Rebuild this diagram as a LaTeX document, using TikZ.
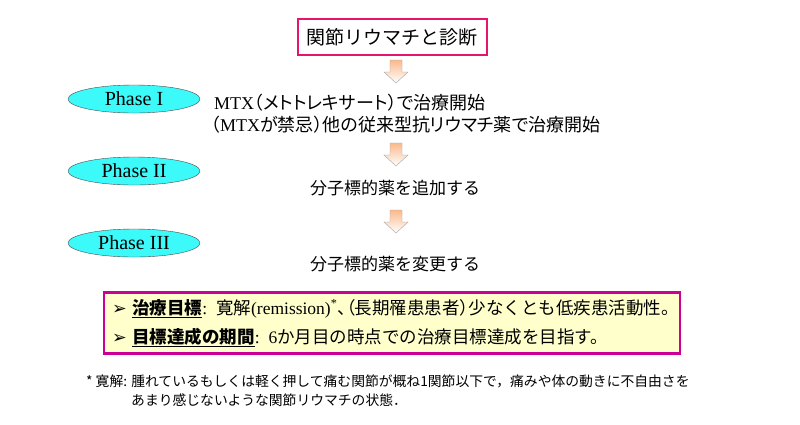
\documentclass[tikz,border=0pt]{standalone}
\usepackage{fontspec}
\setmainfont{Liberation Serif}
\newfontfamily\jp{Noto Sans CJK JP}
\newfontfamily\jpp{Noto Sans CJK JP}[RawFeature=+palt]
\newfontfamily\sym{DejaVu Sans}
\usetikzlibrary{shapes.geometric}
\definecolor{titlered}{RGB}{230,20,110}
\definecolor{goalpink}{RGB}{204,0,153}
\definecolor{goalfill}{RGB}{255,255,204}
\definecolor{phasecyan}{RGB}{60,250,250}
\definecolor{arrowtop}{RGB}{250,185,140}

\begin{document}
\begin{tikzpicture}[x=1pt,y=-1pt,
    titlebox/.style={draw=titlered,line width=2pt,fill=white,minimum height=36pt,
        inner xsep=9pt,font=\jp\fontsize{19}{22}\selectfont},
    phase/.style={ellipse,draw=gray!60!black,fill=phasecyan,minimum width=132pt,
        minimum height=28pt,inner sep=0pt,font=\fontsize{20}{24}\selectfont},
    flowtext/.style={inner sep=0pt,font=\fontsize{17}{22}\selectfont},
    goalbox/.style={draw=goalpink,line width=2.2pt,fill=goalfill,minimum width=576pt,
        minimum height=61pt,inner xsep=8pt,text width=560pt,align=left,
        font=\fontsize{17.5}{29}\selectfont},
    foot/.style={inner sep=0pt,anchor=west,font=\jp\fontsize{13.8}{16}\selectfont}]
    \useasboundingbox[fill=white] (0,0) rectangle (800,424);

    \node[titlebox] (title) at (392,37) {関節リウマチと診断};

    % block arrows
    \foreach \y in {60,143,210}
        \shade[draw=gray!70,top color=arrowtop,bottom color=white]
            (390,\y) -- (402,\y) -- (402,\y+12) -- (408,\y+12) -- (396,\y+23)
            -- (384,\y+12) -- (390,\y+12) -- cycle;

    \node[phase] (p1) at (134,99) {Phase I};
    \node[phase] (p2) at (134,171) {Phase II};
    \node[phase] (p3) at (134,243) {Phase III};

    \node[flowtext,anchor=west,font=\fontsize{18}{22}\selectfont] (mtx) at (214,103)
        {MTX{\jpp（メトトレキサート）で治療開始}};
    \node[flowtext,anchor=west,font=\fontsize{18}{22}\selectfont] (dmard) at (211,125)
        {{\jpp（}MTX{\jpp が禁忌）他の従来型抗リウマチ薬で治療開始}};
    \node[flowtext] (add) at (395,188) {\jp 分子標的薬を追加する};
    \node[flowtext] (change) at (395,264) {\jp 分子標的薬を変更する};

    \node[goalbox] (goal) at (392,323) {%
        {\sym ➢}\ {\jp\underline{\textbf{治療目標}}}: {\jp 寛解}(remission)\textsuperscript{*}{\jpp 、（長期罹患患者）}{\jp 少なくとも低疾患活動性。}\\
        {\sym ➢}\ {\jp\underline{\textbf{目標達成の期間}}}: 6{\jp か月目の時点での治療目標達成を目指す。}};

    \node[foot] (foot1) at (86,381) {* 寛解: 腫れているもしくは軽く押して痛む関節が概ね1関節以下で，痛みや体の動きに不自由さを};
    \node[foot] (foot2) at (131,400) {あまり感じないような関節リウマチの状態．};
\end{tikzpicture}
\end{document}
